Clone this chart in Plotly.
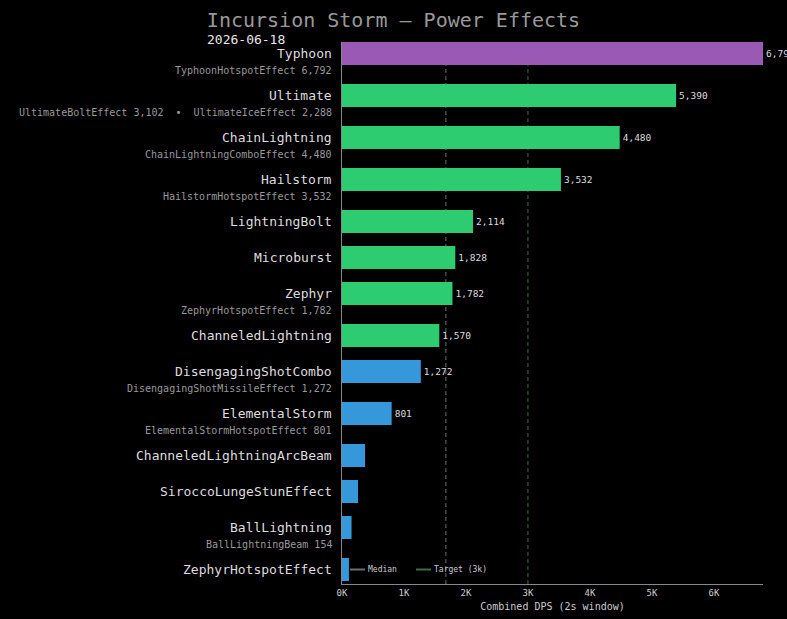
import numpy as np
import plotly.graph_objects as go

# ---------------- data ----------------
names = ["Typhoon", "Ultimate", "ChainLightning", "Hailstorm", "LightningBolt",
         "Microburst", "Zephyr", "ChanneledLightning", "DisengagingShotCombo",
         "ElementalStorm", "ChanneledLightningArcBeam", "SiroccoLungeStunEffect",
         "BallLightning", "ZephyrHotspotEffect"]
values = [6792, 5390, 4480, 3532, 2114, 1828, 1782, 1570, 1272, 801, 371, 258, 154, 112]
comp_names = [["TyphoonHotspotEffect"], ["UltimateBoltEffect", "UltimateIceEffect"],
              ["ChainLightningComboEffect"], ["HailstormHotspotEffect"], [], [],
              ["ZephyrHotspotEffect"], [], ["DisengagingShotMissileEffect"],
              ["ElementalStormHotspotEffect"], [], [], ["BallLightningBeam"], []]
comp_values = [[6792], [3102, 2288], [4480], [3532], [], [], [1782], [], [1272], [801],
               [], [], [154], []]
tick_values = [0, 1000, 2000, 3000, 4000, 5000, 6000]
tick_labels = ["0K", "1K", "2K", "3K", "4K", "5K", "6K"]
target = 3000
legend_names = ["Median", "Target (3k)"]
title_text = "Incursion Storm — Power Effects"
date_text = "2026-06-18"
x_title = "Combined DPS (2s window)"

# ---------------- styling helpers ----------------
FONT = "DejaVu Sans Mono, monospace"
PURPLE, GREEN, BLUE = "#9b59b6", "#2ecc71", "#3498db"
MEDIAN_COLOR, TARGET_COLOR = "#6e6e6e", "#3f6e3f"
W, H = 787, 619
ML, MR, MT, MB = 342, 24, 42, 35
PW, PH = W - ML - MR, H - MT - MB


def tier_color(v):
    if v >= 6000:
        return PURPLE
    if v >= 1500:
        return GREEN
    return BLUE


has_sub = [len(c) > 0 for c in comp_names]
ypos = [0.0]
for i in range(len(names) - 1):
    ypos.append(ypos[-1] + 1.0 + (1 / 6 if has_sub[i] else 0.0))

colors = [tier_color(v) for v in values]
labels = [f"{v:,}" if v >= 500 else "" for v in values]
median = float(np.median(values))

fig = go.Figure()
fig.add_trace(go.Bar(
    x=values, y=ypos, orientation="h", width=23 / 36,
    marker=dict(color=colors, line=dict(width=0)),
    text=labels, textposition="outside", cliponaxis=False,
    textfont=dict(family=FONT, size=9.5, color="#dddddd"),
    showlegend=False, hoverinfo="skip",
))

shapes = [
    dict(type="line", xref="x", yref="paper", x0=median, x1=median, y0=0, y1=1,
         line=dict(color=MEDIAN_COLOR, width=1, dash="4px,3px"), layer="below"),
    dict(type="line", xref="x", yref="paper", x0=target, x1=target, y0=0, y1=1,
         line=dict(color=TARGET_COLOR, width=1, dash="4px,3px"), layer="below"),
]

annotations = []
for i, n in enumerate(names):
    annotations.append(dict(
        x=0, xref="paper", y=ypos[i], yref="y", text=n, showarrow=False,
        xanchor="right", yanchor="middle", xshift=-8,
        font=dict(family=FONT, size=13, color="#dddddd")))
    if has_sub[i]:
        sub = "  •  ".join(f"{cn} {cv:,}" for cn, cv in zip(comp_names[i], comp_values[i]))
        annotations.append(dict(
            x=0, xref="paper", y=ypos[i], yref="y", text=sub, showarrow=False,
            xanchor="right", yanchor="middle", xshift=-8, yshift=-17,
            font=dict(family=FONT, size=10, color="#999999")))

# date line under the title, left-aligned with the title start
annotations.append(dict(
    x=(207 - ML) / PW, xref="paper", y=1, yref="paper", yshift=3, text=date_text,
    showarrow=False, xanchor="left", yanchor="middle", xshift=-2,
    font=dict(family=FONT, size=13, color="#e8e8e8")))

# compact legend (short swatches) drawn inside the plot, bottom-left
leg_colors = [MEDIAN_COLOR, TARGET_COLOR]
leg_x0 = [(350 - ML) / PW, (416 - ML) / PW]
sw = 15 / PW
for nm, c, x0 in zip(legend_names, leg_colors, leg_x0):
    shapes.append(dict(type="line", xref="paper", yref="y", x0=x0, x1=x0 + sw,
                       y0=ypos[-1], y1=ypos[-1], line=dict(color=c, width=2)))
    annotations.append(dict(
        x=x0 + sw, xref="paper", y=ypos[-1], yref="y", text=nm, showarrow=False,
        xanchor="left", yanchor="middle", xshift=1,
        font=dict(family=FONT, size=8, color="#cccccc")))

fig.update_layout(
    width=W, height=H,
    margin=dict(l=ML, r=MR, t=MT, b=MB, autoexpand=False),
    paper_bgcolor="#000000", plot_bgcolor="#000000",
    title=dict(text=title_text, x=0.5, xanchor="center", xref="container",
               y=1 - 20 / H, yanchor="middle", yref="container",
               font=dict(family=FONT, size=20, color="#999999")),
    xaxis=dict(range=[0, max(values)], tickvals=tick_values, ticktext=tick_labels,
               showgrid=False, zeroline=False, showline=True, linecolor="#888888",
               ticks="", automargin=False,
               tickfont=dict(family=FONT, size=9, color="#cccccc"),
               title=dict(text=x_title, font=dict(family=FONT, size=10, color="#cccccc"),
                          standoff=6)),
    yaxis=dict(range=[ypos[-1] + 14.5 / 36, -11.5 / 36], showgrid=False, zeroline=False,
               showline=True, linecolor="#888888", showticklabels=False, ticks="",
               automargin=False),
    showlegend=False,
    shapes=shapes, annotations=annotations,
)

fig.write_html("out.html")
